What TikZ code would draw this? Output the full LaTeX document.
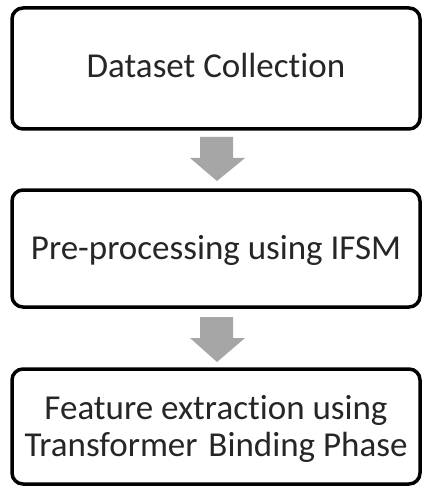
\documentclass[tikz,border=0pt]{standalone}
\usepackage{fontspec}
\setmainfont{Carlito}[Ligatures={NoCommon,NoDiscretionary}]
\tikzset{
  stagebox/.style={draw=black, line width=3.5pt, rounded corners=11pt, fill=white},
  flowarrow/.style={fill=black!35, draw=none},
  lbl/.style={font=\fontsize{35}{37}\selectfont, align=center, text=black!85, anchor=base, inner sep=0pt}
}
\begin{document}
\begin{tikzpicture}[x=1pt,y=-1pt]
\useasboundingbox (0,0) rectangle (422,486);
\draw[stagebox] (12,8) rectangle (420,129);
\node[lbl] (b1) at (216,78) {Dataset Collection};
\draw[stagebox] (12,190) rectangle (420,307);
\node[lbl] (b2) at (216,259) {Pre-processing using IFSM};
\draw[stagebox] (12,369) rectangle (420,484);
\node[lbl] (b3) at (216,456) {Feature extraction using\\Transformer\hspace{3pt} Binding Phase};
\fill[flowarrow] (200,137) -- (233,137) -- (233,158) -- (245,158) -- (217,181) -- (190,158) -- (200,158) -- cycle;
\fill[flowarrow] (200,317) -- (233,317) -- (233,338) -- (245,338) -- (217,362) -- (190,338) -- (200,338) -- cycle;
\end{tikzpicture}
\end{document}
